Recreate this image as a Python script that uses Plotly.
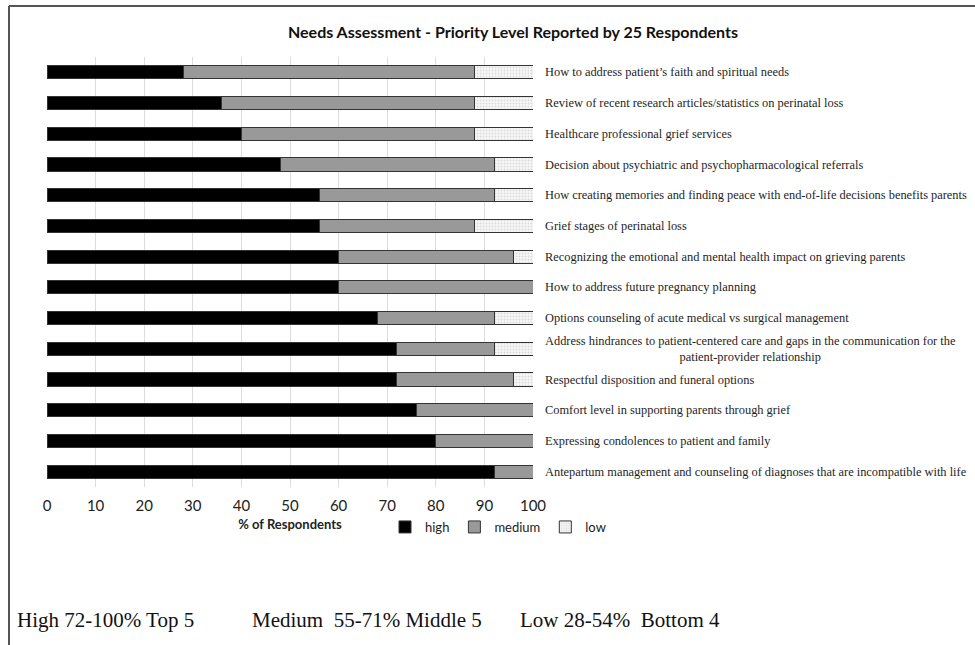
import plotly.graph_objects as go

# Needs-assessment topics, listed top to bottom
topics = [
    "How to address patient\u2019s faith and spiritual needs",
    "Review of recent research articles/statistics on perinatal loss",
    "Healthcare professional grief services",
    "Decision about psychiatric and psychopharmacological referrals",
    "How creating memories and finding peace with end-of-life decisions benefits parents",
    "Grief stages of perinatal loss",
    "Recognizing the emotional and mental health impact on grieving parents",
    "How to address future pregnancy planning",
    "Options counseling of acute medical vs surgical management",
    "Address hindrances to patient-centered care and gaps in the communication for the<br>patient-provider relationship",
    "Respectful disposition and funeral options",
    "Comfort level in supporting parents through grief",
    "Expressing condolences to patient and family",
    "Antepartum management and counseling of diagnoses that are incompatible with life",
]

# % of the 25 respondents choosing each priority level
high = [28, 36, 40, 48, 56, 56, 60, 60, 68, 72, 72, 76, 80, 92]
medium = [60, 52, 48, 44, 36, 32, 36, 40, 24, 20, 24, 24, 20, 8]
low = [12, 12, 12, 8, 8, 12, 4, 0, 8, 8, 4, 0, 0, 0]

x_ticks = [0, 10, 20, 30, 40, 50, 60, 70, 80, 90, 100]

note_parts = [
    "High 72-100% Top 5",
    "Medium\u00a0\u00a055-71% Middle 5",
    "Low 28-54%\u00a0\u00a0Bottom 4",
]

W, H = 975, 645
PL, PR, PT, PB = 47, 533, 57, 487  # plot-area edges in pixels


def px_x(px):
    """Pixel column -> paper x (relative to the plot area)."""
    return (px - PL) / (PR - PL)


def px_y(py):
    """Pixel row -> paper y (relative to the plot area)."""
    return (PB - py) / (PB - PT)


ids = list(range(len(topics)))
outline = dict(color="#333333", width=1)

fig = go.Figure()
fig.add_trace(go.Bar(
    name="high", y=ids, x=high, orientation="h",
    marker=dict(color="#000000", line=outline),
))
fig.add_trace(go.Bar(
    name="medium", y=ids, x=medium, orientation="h",
    marker=dict(color="#999999", line=outline),
))
fig.add_trace(go.Bar(
    name="low", y=ids, x=low, orientation="h",
    marker=dict(
        color="#f4f4f4", line=outline,
        pattern=dict(shape=".", fgcolor="#bdbdbd", bgcolor="#f7f7f7",
                     size=3, solidity=0.3),
    ),
))

# Topic labels to the right of the bars
for i, t in enumerate(topics):
    fig.add_annotation(
        x=px_x(543), y=i, xref="paper", yref="y", text=t, showarrow=False,
        xanchor="left", yanchor="middle", align="center",
        font=dict(family="Liberation Serif", size=12.4, color="#1e1e1e"),
    )

# Footnote on the priority bands
for part, px in zip(note_parts, [15, 250, 518]):
    fig.add_annotation(
        x=px_x(px), y=px_y(620), xref="paper", yref="paper",
        text=part, showarrow=False, xanchor="left", yanchor="middle",
        font=dict(family="Liberation Serif", size=21, color="#111111"),
    )

# Frame lines along the top and left edges
fig.add_shape(type="line", xref="paper", yref="paper",
              x0=px_x(9), x1=px_x(W), y0=px_y(6), y1=px_y(6),
              line=dict(color="#555555", width=2))
fig.add_shape(type="line", xref="paper", yref="paper",
              x0=px_x(9), x1=px_x(9), y0=px_y(H), y1=px_y(6),
              line=dict(color="#555555", width=2))

fig.update_layout(
    barmode="stack",
    bargap=0.57,
    width=W, height=H,
    margin=dict(l=PL, r=W - PR, t=PT, b=H - PB, autoexpand=False),
    plot_bgcolor="white", paper_bgcolor="white",
    title=dict(
        text="<b>Needs Assessment - Priority Level Reported by 25 Respondents</b>",
        x=513 / W, xanchor="center", y=1 - 32 / H, yanchor="middle",
        font=dict(family="Lato", size=16, color="#111111"),
    ),
    xaxis=dict(
        range=[0, 100], tickvals=x_ticks, showgrid=True, gridcolor="#dcdcdc",
        gridwidth=1, zeroline=False, showline=False, ticks="",
        tickfont=dict(family="Lato", size=15, color="#222222"),
        ticklabelstandoff=8,
        title=dict(text="<b>% of Respondents</b>", standoff=6,
                   font=dict(family="Lato", size=13, color="#222222")),
    ),
    yaxis=dict(
        range=[len(topics) - 0.5, -0.5], showticklabels=False, showgrid=False,
        zeroline=False, showline=False, ticks="",
    ),
    legend=dict(
        orientation="h", x=px_x(498), xanchor="center",
        y=px_y(527), yanchor="middle",
        font=dict(family="Lato", size=13, color="#222222"),
        itemwidth=30, traceorder="normal", bgcolor="rgba(0,0,0,0)",
    ),
)

fig.write_html("out.html")
